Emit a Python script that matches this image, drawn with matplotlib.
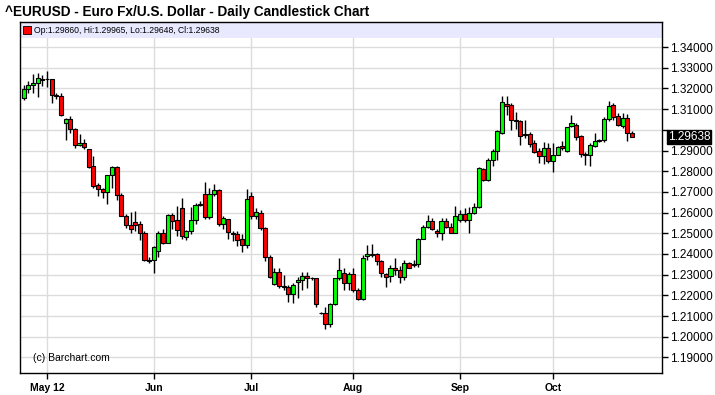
import numpy as np
import pandas as pd
import matplotlib
matplotlib.use('Agg')
import matplotlib.pyplot as plt

plt.rcParams['font.family'] = ['Liberation Sans', 'DejaVu Sans']

# one candle per business day, 24 Apr 2012 .. 24 Oct 2012
dates = pd.bdate_range('2012-04-24', '2012-10-24')

opens = [1.3155, 1.3198, 1.3219, 1.3224, 1.3240, 1.3246, 1.3244, 1.3170, 1.3163, 1.3034,
         1.3053, 1.3005, 1.2927, 1.2937, 1.2908, 1.2824, 1.2731, 1.2715, 1.2700, 1.2781,
         1.2821, 1.2687, 1.2584, 1.2539, 1.2556, 1.2543, 1.2503, 1.2369, 1.2369, 1.2415,
         1.2503, 1.2455, 1.2587, 1.2565, 1.2624, 1.2484, 1.2510, 1.2563, 1.2635, 1.2689,
         1.2579, 1.2689, 1.2710, 1.2544, 1.2571, 1.2503, 1.2498, 1.2471, 1.2445, 1.2681,
         1.2584, 1.2600, 1.2524, 1.2387, 1.2253, 1.2311, 1.2247, 1.2239, 1.2205, 1.2263,
         1.2274, 1.2294, 1.2285, 1.2282, 1.2117, 1.2113, 1.2060, 1.2156, 1.2282, 1.2306,
         1.2258, 1.2302, 1.2226, 1.2181, 1.2390, 1.2400, 1.2400, 1.2366, 1.2302, 1.2294,
         1.2331, 1.2323, 1.2287, 1.2355, 1.2345, 1.2350, 1.2471, 1.2529, 1.2561, 1.2511,
         1.2500, 1.2561, 1.2532, 1.2503, 1.2565, 1.2592, 1.2565, 1.2600, 1.2629, 1.2811,
         1.2758, 1.2855, 1.2898, 1.2987, 1.3126, 1.3121, 1.3048, 1.3045, 1.2973, 1.2981,
         1.2935, 1.2900, 1.2874, 1.2911, 1.2847, 1.2879, 1.2923, 1.2900, 1.3019, 1.3024,
         1.2968, 1.2882, 1.2879, 1.2923, 1.2948, 1.2950, 1.3052, 1.3121, 1.3065, 1.3019,
         1.3056, 1.29860]
highs = [1.3219, 1.3235, 1.3268, 1.3273, 1.3263, 1.3284, 1.3246, 1.3179, 1.3179, 1.3058,
         1.3069, 1.3010, 1.2982, 1.2956, 1.2908, 1.2873, 1.2744, 1.2719, 1.2784, 1.2827,
         1.2827, 1.2695, 1.2595, 1.2603, 1.2608, 1.2560, 1.2511, 1.2387, 1.2439, 1.2511,
         1.2519, 1.2592, 1.2600, 1.2632, 1.2673, 1.2516, 1.2629, 1.2648, 1.2656, 1.2748,
         1.2721, 1.2737, 1.2716, 1.2584, 1.2571, 1.2511, 1.2511, 1.2495, 1.2713, 1.2700,
         1.2620, 1.2612, 1.2530, 1.2395, 1.2331, 1.2331, 1.2298, 1.2250, 1.2258, 1.2290,
         1.2315, 1.2315, 1.2290, 1.2285, 1.2120, 1.2145, 1.2161, 1.2285, 1.2379, 1.2331,
         1.2315, 1.2331, 1.2234, 1.2395, 1.2444, 1.2450, 1.2406, 1.2371, 1.2310, 1.2347,
         1.2379, 1.2342, 1.2371, 1.2363, 1.2371, 1.2476, 1.2540, 1.2589, 1.2573, 1.2519,
         1.2573, 1.2573, 1.2548, 1.2632, 1.2613, 1.2621, 1.2626, 1.2645, 1.2819, 1.2815,
         1.2863, 1.2906, 1.3000, 1.3165, 1.3165, 1.3129, 1.3084, 1.3048, 1.3048, 1.2990,
         1.2952, 1.2911, 1.2939, 1.2935, 1.2935, 1.2923, 1.2944, 1.3016, 1.3073, 1.3032,
         1.2976, 1.2895, 1.2935, 1.2987, 1.2955, 1.3060, 1.3137, 1.3129, 1.3081, 1.3081,
         1.3077, 1.29965]
lows = [1.3144, 1.3179, 1.3179, 1.3160, 1.3211, 1.3208, 1.3131, 1.3147, 1.3066, 1.2953,
        1.2985, 1.2913, 1.2924, 1.2905, 1.2816, 1.2719, 1.2679, 1.2671, 1.2644, 1.2719,
        1.2663, 1.2582, 1.2527, 1.2503, 1.2511, 1.2466, 1.2366, 1.2355, 1.2310, 1.2387,
        1.2447, 1.2452, 1.2519, 1.2487, 1.2471, 1.2468, 1.2495, 1.2544, 1.2632, 1.2568,
        1.2568, 1.2681, 1.2535, 1.2519, 1.2471, 1.2463, 1.2439, 1.2410, 1.2431, 1.2568,
        1.2570, 1.2515, 1.2366, 1.2282, 1.2250, 1.2234, 1.2226, 1.2166, 1.2161, 1.2189,
        1.2226, 1.2234, 1.2276, 1.2145, 1.2112, 1.2040, 1.2048, 1.2153, 1.2274, 1.2226,
        1.2226, 1.2218, 1.2178, 1.2178, 1.2371, 1.2387, 1.2347, 1.2287, 1.2242, 1.2266,
        1.2298, 1.2258, 1.2274, 1.2331, 1.2335, 1.2339, 1.2471, 1.2526, 1.2516, 1.2484,
        1.2468, 1.2524, 1.2500, 1.2500, 1.2556, 1.2556, 1.2500, 1.2594, 1.2621, 1.2755,
        1.2755, 1.2823, 1.2855, 1.2981, 1.3073, 1.3000, 1.3003, 1.2927, 1.2960, 1.2919,
        1.2887, 1.2839, 1.2835, 1.2839, 1.2798, 1.2879, 1.2903, 1.2895, 1.3016, 1.2952,
        1.2871, 1.2831, 1.2823, 1.2916, 1.2940, 1.2940, 1.3045, 1.3048, 1.3019, 1.3008,
        1.2948, 1.29648]
closes = [1.3198, 1.3219, 1.3224, 1.3252, 1.3246, 1.3244, 1.3170, 1.3163, 1.3071, 1.3053,
          1.3005, 1.2927, 1.2937, 1.2918, 1.2821, 1.2727, 1.2715, 1.2700, 1.2781, 1.2821,
          1.2687, 1.2585, 1.2539, 1.2519, 1.2542, 1.2503, 1.2369, 1.2366, 1.2435, 1.2503,
          1.2455, 1.2587, 1.2560, 1.2516, 1.2487, 1.2510, 1.2563, 1.2635, 1.2644, 1.2579,
          1.2689, 1.2710, 1.2544, 1.2576, 1.2508, 1.2498, 1.2468, 1.2445, 1.2668, 1.2584,
          1.2602, 1.2524, 1.2387, 1.2290, 1.2311, 1.2247, 1.2239, 1.2205, 1.2248, 1.2274,
          1.2294, 1.2285, 1.2282, 1.2156, 1.2116, 1.2060, 1.2156, 1.2282, 1.2321, 1.2258,
          1.2302, 1.2226, 1.2181, 1.2382, 1.2400, 1.2396, 1.2366, 1.2306, 1.2287, 1.2331,
          1.2321, 1.2287, 1.2355, 1.2334, 1.2352, 1.2471, 1.2529, 1.2561, 1.2519, 1.2500,
          1.2561, 1.2529, 1.2503, 1.2584, 1.2592, 1.2565, 1.2600, 1.2629, 1.2815, 1.2758,
          1.2855, 1.2898, 1.2992, 1.3134, 1.3116, 1.3048, 1.3045, 1.2971, 1.2980, 1.2932,
          1.2895, 1.2874, 1.2911, 1.2847, 1.2879, 1.2916, 1.2911, 1.3013, 1.3032, 1.2965,
          1.2882, 1.2876, 1.2927, 1.2948, 1.2950, 1.3052, 1.3116, 1.3061, 1.3024, 1.3056,
          1.2984, 1.29638]

y_ticks = np.round(np.arange(1.19, 1.3401, 0.01), 2)
month_labels = ['May 12', 'Jun', 'Jul', 'Aug', 'Sep', 'Oct']
last_price = 1.29638
legend_text = 'Op:1.29860, Hi:1.29965, Lo:1.29648, Cl:1.29638'

o = np.array(opens)
h = np.array(highs)
l = np.array(lows)
c = np.array(closes)
x = np.arange(len(dates))

# first trading day of each month (skip the partial April at the start)
month_idx = [i for i in range(1, len(dates)) if dates[i].month != dates[i - 1].month]

fig = plt.figure(figsize=(7.15, 3.95), dpi=100)
ax = fig.add_axes([20 / 715, 22 / 395, 642 / 715, 351 / 395])
ax.set_axisbelow(True)

# candles: wicks then bodies
ax.vlines(x, l, h, color='black', lw=1, zorder=2)
colors = ['#00FF00' if cc >= oo else '#FF0000' for oo, cc in zip(o, c)]
ax.bar(x, np.abs(c - o), bottom=np.minimum(o, c), width=0.88, color=colors,
       edgecolor='black', linewidth=0.8, zorder=3)

ax.set_xlim(-0.82, 137.5)
ax.set_ylim(1.1825, 1.3521)

# the label nearest the last price is hidden behind the price box
ylabels = [f'{v:.5f}' if abs(v - last_price) > 0.005 else '' for v in y_ticks]
ax.yaxis.tick_right()
ax.set_yticks(y_ticks)
ax.set_yticklabels(ylabels)
ax.set_xticks(month_idx)
ax.set_xticklabels(month_labels, fontweight='bold')
ax.tick_params(axis='y', direction='out', length=4, width=1, labelsize=8.5, pad=1.5)
ax.tick_params(axis='x', direction='out', length=4, width=1, labelsize=7.5, pad=3)
ax.grid(True, color='#DCDCDC', lw=1)
for s in ax.spines.values():
    s.set_color('black')
    s.set_linewidth(1)

# legend band across the top of the plot
ax.axhspan(1.3443, 1.3521, color='#E8E8FF', lw=0, zorder=1)
ax.scatter([0.011], [0.977], transform=ax.transAxes, marker='s', s=28,
           color='#FF0000', edgecolor='black', linewidth=0.6, zorder=4, clip_on=False)
ax.text(0.022, 0.977, legend_text, transform=ax.transAxes, fontsize=6.2,
        va='center', ha='left', zorder=4)

# last price marker on the axis
ax.text(1.0 + 6 / 642, last_price, f'{last_price:.5f}', transform=ax.get_yaxis_transform(),
        fontsize=8.5, color='white', va='center', ha='left',
        bbox=dict(facecolor='black', edgecolor='black', pad=0.6))

ax.text(0.02, 0.043, '(c) Barchart.com', transform=ax.transAxes, fontsize=7.5,
        va='center', ha='left')

fig.text(5 / 715, 1 - 12 / 395, '^EURUSD - Euro Fx/U.S. Dollar - Daily Candlestick Chart',
         fontsize=9.8, fontweight='bold', va='center', ha='left')

fig.savefig('out.png', dpi=100)
